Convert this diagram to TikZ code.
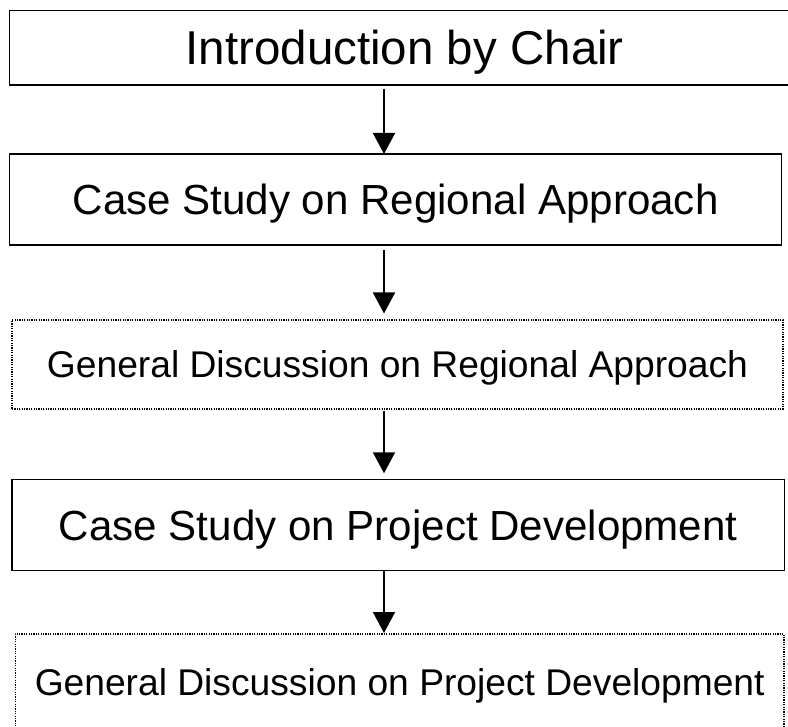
\documentclass[tikz,border=0pt]{standalone}
\usepackage{fontspec}
\setmainfont{Liberation Sans}
\usetikzlibrary{calc}
\usetikzlibrary{arrows.meta}

\begin{document}
\begin{tikzpicture}[x=1pt,y=-1pt]

 \tikzset{
    box/.style={
      rectangle,
      draw,
      line width=1.5pt,
      inner sep=0pt,
      outer sep=0pt,
      text depth=0pt
    },
    dotbox/.style={
      box,
      line width=1.2pt,
      dash pattern=on 1.2pt off 1.2pt
    },
    bigtext/.style={font=\fontsize{47.5}{57}\selectfont, text height=34pt},
    midtext/.style={font=\fontsize{42.1}{50}\selectfont, text height=30.2pt},
    smalltext/.style={font=\fontsize{37.2}{45}\selectfont, text height=26.6pt},
    flow/.style={
      line width=1.6pt,
      -{Triangle[width=22pt,length=21pt]}
    }
  }

\useasboundingbox (0,0) rectangle (788,727);

\node[box, bigtext, minimum width=790.5pt, minimum height=74.3pt] (intro) at (404.75,47.85) {Introduction by Chair};
\node[box, midtext, minimum width=772.2pt, minimum height=91pt] (casereg) at (395.6,199.5) {Case Study on Regional Approach};
\node[dotbox, smalltext, minimum width=771pt, minimum height=89pt] (discreg) at (397.5,364.5) {General Discussion on Regional Approach};
\node[box, midtext, minimum width=772.7pt, minimum height=91pt] (caseproj) at (398.3,525.2) {Case Study on Project Development};
\node[dotbox, smalltext, minimum width=768.7pt, minimum height=97pt] (discproj) at (399.7,682.5) {General Discussion on Project Development};

% arrows all run down one line
\coordinate (axis) at (384,0);

\draw[flow, shorten <=4pt] (intro.south -| axis) -- (casereg.north -| axis);
\draw[flow, shorten <=5pt, shorten >=6.5pt] (casereg.south -| axis) -- (discreg.north -| axis);
\draw[flow, shorten <=2pt, shorten >=6.4pt] (discreg.south -| axis) -- (caseproj.north -| axis);
\draw[flow, shorten >=1pt] (caseproj.south -| axis) -- (discproj.north -| axis);

\end{tikzpicture}
\end{document}
